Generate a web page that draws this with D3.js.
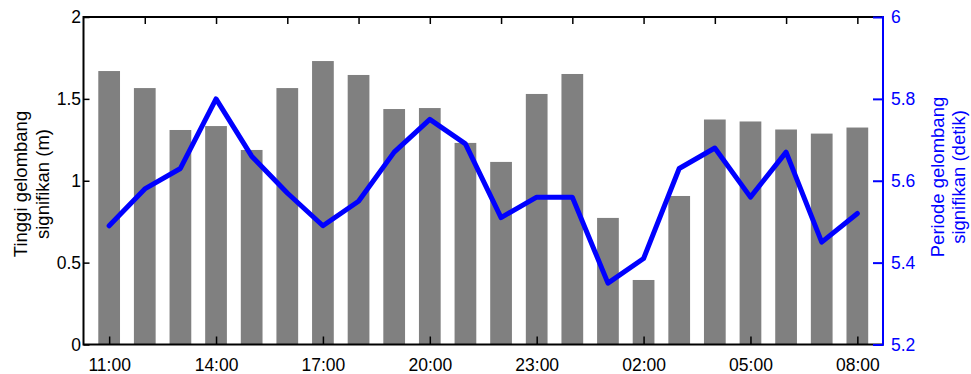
<!DOCTYPE html>
<html>
<head>
<meta charset="utf-8">
<script src="https://cdn.jsdelivr.net/npm/d3@7"></script>
<style>
  body { margin: 0; background: #fff; }
  svg text { font-family: "Liberation Sans", Arial, Helvetica, sans-serif; }
</style>
</head>
<body>
<div id="chart"></div>
<script>
const width = 971;
const height = 374;

// jam pengamatan (tiap jam)
const hours = ["11:00", "12:00", "13:00", "14:00", "15:00", "16:00", "17:00", "18:00",
    "19:00", "20:00", "21:00", "22:00", "23:00", "00:00", "01:00", "02:00",
    "03:00", "04:00", "05:00", "06:00", "07:00", "08:00"];

// tinggi gelombang signifikan (m)
const waveHeight = [1.67, 1.566, 1.31, 1.334, 1.188, 1.566, 1.731, 1.646,
    1.438, 1.444, 1.231, 1.115, 1.53, 1.652, 0.773, 0.394,
    0.907, 1.374, 1.362, 1.313, 1.288, 1.325];

// periode gelombang signifikan (detik)
const wavePeriod = [5.49, 5.58, 5.63, 5.80, 5.66, 5.57, 5.49, 5.55,
    5.67, 5.75, 5.69, 5.51, 5.56, 5.56, 5.35, 5.41,
    5.63, 5.68, 5.56, 5.67, 5.45, 5.52];

const leftTicks = [0, 0.5, 1, 1.5, 2];
const rightTicks = [5.2, 5.4, 5.6, 5.8, 6];

const margin = { top: 17, right: 88, bottom: 29.5, left: 83.5 };
const plotW = width - margin.left - margin.right;
const plotH = height - margin.top - margin.bottom;

const tickFont = "17.5px";
const labelFont = "18.5px";

const svg = d3.select("#chart").append("svg")
    .attr("width", width)
    .attr("height", height);

const g = svg.append("g")
    .attr("transform", `translate(${margin.left},${margin.top})`);

const x = d3.scaleLinear()
    .domain([-0.72, hours.length - 1 + 0.72])
    .range([0, plotW]);

const yLeft = d3.scaleLinear().domain([0, 2]).range([plotH, 0]);
const yRight = d3.scaleLinear().domain([5.2, 6]).range([plotH, 0]);

const barHalf = 0.305;

// batang
g.append("g")
    .selectAll("rect")
    .data(waveHeight)
    .enter().append("rect")
    .attr("x", (d, i) => x(i - barHalf))
    .attr("width", x(barHalf) - x(-barHalf))
    .attr("y", d => yLeft(d))
    .attr("height", d => plotH - yLeft(d))
    .style("fill", "#808080");

// garis periode
const line = d3.line()
    .x((d, i) => x(i))
    .y(d => yRight(d));

g.append("path")
    .datum(wavePeriod)
    .attr("d", line)
    .style("fill", "none")
    .style("stroke", "#0000ff")
    .style("stroke-width", 5)
    .style("stroke-linejoin", "round")
    .style("stroke-linecap", "round");

// bingkai
g.append("rect")
    .attr("width", plotW)
    .attr("height", plotH)
    .style("fill", "none")
    .style("stroke", "#000")
    .style("stroke-width", 2);

function styleAxis(sel, color) {
    sel.select(".domain").remove();
    sel.selectAll(".tick line").style("stroke", color).style("stroke-width", 1.5);
    sel.selectAll(".tick text").style("fill", color).style("font-size", tickFont);
}

// sumbu bawah
g.append("g")
    .attr("transform", `translate(0,${plotH})`)
    .call(d3.axisBottom(x)
        .tickValues(d3.range(0, hours.length, 3))
        .tickFormat(i => hours[i])
        .tickSize(-8)
        .tickPadding(14))
    .call(s => styleAxis(s, "#000"));

// sumbu atas
g.append("g")
    .call(d3.axisTop(x)
        .tickValues(d3.range(1, hours.length, 2))
        .tickFormat("")
        .tickSize(-7))
    .call(s => styleAxis(s, "#000"));

// sumbu kiri
g.append("g")
    .call(d3.axisLeft(yLeft)
        .tickValues(leftTicks)
        .tickFormat(d3.format("~g"))
        .tickSize(-6)
        .tickPadding(2.5))
    .call(s => styleAxis(s, "#000"));

// sumbu kanan
const rightAxis = g.append("g")
    .attr("transform", `translate(${plotW},0)`)
    .call(d3.axisRight(yRight)
        .tickValues(rightTicks)
        .tickFormat(d3.format("~g"))
        .tickSize(-10)
        .tickPadding(8))
    .call(s => styleAxis(s, "#0000ff"));

rightAxis.selectAll(".tick line").style("stroke-width", 2);

rightAxis.append("line")
    .attr("y1", -1)
    .attr("y2", plotH + 1)
    .style("stroke", "#0000ff")
    .style("stroke-width", 2);

// label sumbu
const leftLabel = svg.append("text")
    .attr("transform", `translate(27,184) rotate(-90)`)
    .attr("text-anchor", "middle")
    .style("font-size", labelFont)
    .style("fill", "#000");
leftLabel.append("tspan").attr("x", 0).attr("dy", 0).text("Tinggi gelombang");
leftLabel.append("tspan").attr("x", 0).attr("dy", 21.5).text("signifikan (m)");

const rightLabel = svg.append("text")
    .attr("transform", `translate(943.5,177) rotate(-90)`)
    .attr("text-anchor", "middle")
    .style("font-size", labelFont)
    .style("fill", "#0000ff");
rightLabel.append("tspan").attr("x", 0).attr("dy", 0).text("Periode gelombang");
rightLabel.append("tspan").attr("x", 0).attr("dy", 21.5).text("signifikan (detik)");
</script>
</body>
</html>
